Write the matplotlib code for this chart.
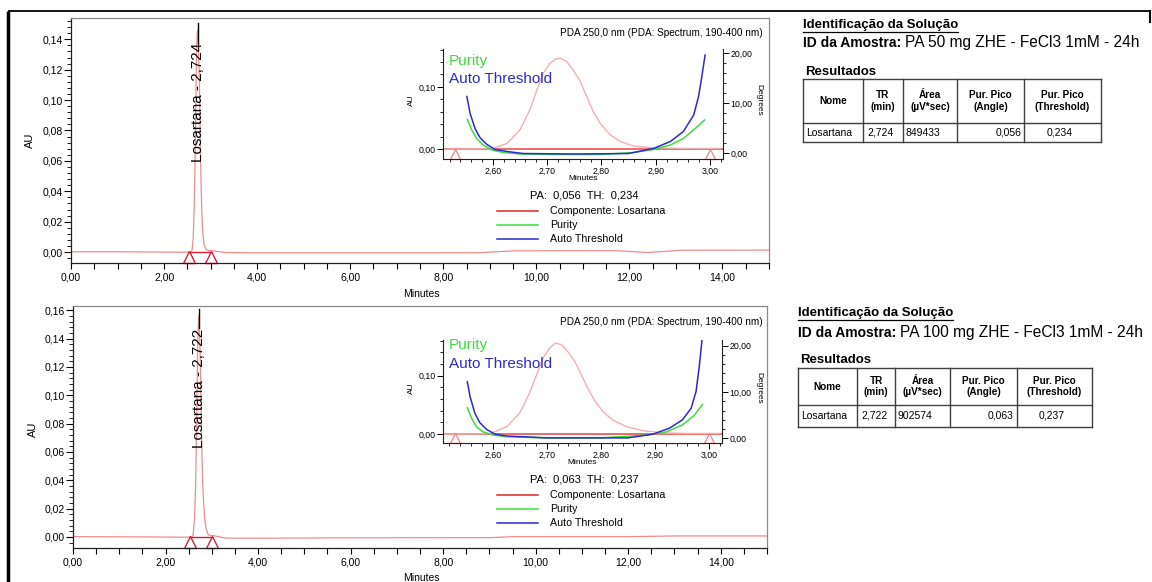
import matplotlib
matplotlib.use('Agg')
import matplotlib.pyplot as plt
import matplotlib.transforms as mtransforms
from matplotlib.ticker import MultipleLocator, FuncFormatter

plt.rcParams['font.family'] = ['Liberation Sans', 'DejaVu Sans']

W, H = 1152, 582

# ---------------- data ----------------
peak_names = ['Losartana', 'Losartana']
peak_rt = [2.724, 2.722]
peak_area = [849433, 902574]
purity_angle = [0.056, 0.063]
purity_threshold = [0.234, 0.237]
sample_ids = ['PA 50 mg ZHE - FeCl3 1mM - 24h', 'PA 100 mg ZHE - FeCl3 1mM - 24h']
peak_start = [2.535, 2.535]
peak_end = [3.00, 3.00]
channel_text = 'PDA 250,0 nm (PDA: Spectrum, 190-400 nm)'

# chromatogram 1 (minutes, AU)
base1_pre_t = [0.0, 1.0, 2.0, 2.4]
base1_pre_au = [0.0002, 0.0002, 0.0, -0.0001]
pk1_t = [2.51, 2.56, 2.60, 2.626, 2.650, 2.668, 2.681, 2.693, 2.705, 2.716, 2.724,
         2.736, 2.748, 2.761, 2.773, 2.785, 2.798, 2.816, 2.835, 2.859, 2.896, 2.95, 3.02]
pk1_au = [0.0, 0.0, 0.001, 0.009, 0.031, 0.063, 0.095, 0.122, 0.138, 0.145, 0.146,
          0.141, 0.127, 0.109, 0.084, 0.060, 0.041, 0.023, 0.012, 0.005, 0.002, 0.001, 0.001]
base1_post_t = [3.3, 4.0, 6.0, 7.5, 8.8, 9.5, 11.7, 12.4, 13.1, 15.0]
base1_post_au = [-0.0003, -0.0005, -0.0005, -0.0005, -0.0004, 0.0008, 0.0009, -0.0003, 0.0012, 0.0013]

# chromatogram 2
base2_pre_t = [0.0, 1.0, 1.8, 2.4]
base2_pre_au = [0.0002, 0.0001, 0.0, -0.0002]
pk2_t = [2.51, 2.56, 2.595, 2.626, 2.650, 2.668, 2.681, 2.693, 2.705, 2.716, 2.727,
         2.739, 2.752, 2.764, 2.776, 2.788, 2.804, 2.822, 2.847, 2.878, 2.915, 2.96, 3.02]
pk2_au = [0.0, 0.0, 0.001, 0.0125, 0.036, 0.070, 0.101, 0.130, 0.147, 0.156, 0.153,
          0.141, 0.124, 0.101, 0.078, 0.058, 0.038, 0.024, 0.0125, 0.0057, 0.002, 0.001, 0.001]
base2_post_t = [3.3, 4.0, 6.0, 9.0, 9.5, 12.0, 13.0, 15.0]
base2_post_au = [-0.0008, -0.0009, -0.0006, -0.0005, 0.0002, 0.0002, 0.0007, 0.0007]

# purity / threshold curves (minutes, degrees)
pur1_t = [2.553, 2.561, 2.570, 2.582, 2.598, 2.619, 2.650, 2.70, 2.80, 2.859, 2.896, 2.927, 2.951, 2.973, 2.990]
pur1_deg = [6.7, 4.6, 2.9, 1.6, 0.6, 0.1, -0.2, -0.3, -0.3, 0.1, 0.7, 1.6, 2.9, 4.9, 6.6]
thr1_t = [2.552, 2.558, 2.567, 2.576, 2.589, 2.604, 2.626, 2.656, 2.75, 2.85, 2.896, 2.927, 2.951, 2.970, 2.979, 2.985, 2.991]
thr1_deg = [11.3, 7.9, 4.9, 3.1, 1.7, 0.7, 0.3, -0.1, -0.2, -0.1, 0.9, 2.3, 4.3, 7.6, 11.3, 15.3, 19.6]
pur2_t = [2.553, 2.561, 2.570, 2.582, 2.601, 2.626, 2.70, 2.80, 2.884, 2.921, 2.951, 2.973, 2.988]
pur2_deg = [6.6, 4.3, 2.5, 1.4, 0.7, 0.35, 0.1, 0.1, 0.7, 1.4, 2.9, 5.0, 7.3]
thr2_t = [2.553, 2.558, 2.567, 2.576, 2.589, 2.604, 2.626, 2.70, 2.85, 2.896, 2.927, 2.951, 2.967, 2.976, 2.982, 2.987]
thr2_deg = [12.2, 9.0, 5.4, 3.4, 1.9, 0.9, 0.5, 0.1, 0.1, 0.9, 2.2, 4.0, 6.5, 10.1, 15.5, 21.2]

# ---------------- layout (pixels) ----------------
panels = [
    dict(ax=(71, 18, 769, 263), ylim=(-0.0072, 0.154),
         inset=(443, 49, 723, 159), in_ylim=(-0.016, 0.161), in_dlim=(-1.2, 20.8),
         lab_y0=0.059, line_top=0.151, au_lab=(30, 140), min_lab=(421, 294),
         pda_y=33, purity_y=61, auto_y=79, in_au=(411, 100), in_deg=(759, 100), in_min=(583, 178),
         pa_y=195, leg_y=(211, 225, 239),
         ident_y=25, id_y=43, res_y=72,
         tcols=(803, 863, 903, 957, 1024, 1101), trows=(79, 123, 142),
         chrom=(base1_pre_t, base1_pre_au, pk1_t, pk1_au, base1_post_t, base1_post_au),
         pur=(pur1_t, pur1_deg), thr=(thr1_t, thr1_deg)),
    dict(ax=(73, 306, 767, 548), ylim=(-0.0078, 0.163),
         inset=(443, 340, 722, 443), in_ylim=(-0.0154, 0.161), in_dlim=(-1.0, 21.2),
         lab_y0=0.063, line_top=0.161, au_lab=(33, 429), min_lab=(421, 578),
         pda_y=322, purity_y=345, auto_y=364, in_au=(411, 388), in_deg=(759, 388), in_min=(582, 463),
         pa_y=480, leg_y=(495, 509, 523),
         ident_y=313, id_y=333, res_y=360,
         tcols=(798, 857, 895, 950, 1017, 1092), trows=(368, 405, 427),
         chrom=(base2_pre_t, base2_pre_au, pk2_t, pk2_au, base2_post_t, base2_post_au),
         pur=(pur2_t, pur2_deg), thr=(thr2_t, thr2_deg)),
]

TRACE = '#f08c8c'
TRACE_IN = '#f4b0b0'
RED = '#d41e3a'
GREEN = '#3ddc3d'
BLUE = '#2a2ad0'


def rect(l, t, r, b):
    return [l / W, 1 - b / H, (r - l) / W, (b - t) / H]


def cfmt(fmt):
    def f(v, p):
        if abs(v) < 1e-9:
            v = 0.0
        return format(v, fmt).replace('.', ',')
    return FuncFormatter(f)


fig = plt.figure(figsize=(W / 100, H / 100), dpi=100)
ov = fig.add_axes([0, 0, 1, 1], zorder=10)
ov.set_xlim(0, W)
ov.set_ylim(H, 0)
ov.axis('off')
ov.patch.set_alpha(0)

# outer frame
ov.plot([8, 1151], [11, 11], color='black', lw=1.3, solid_capstyle='butt')
ov.plot([8, 8], [11, H], color='black', lw=2.5, solid_capstyle='butt')
ov.plot([1150, 1150], [11, 22], color='black', lw=1.5)

renderer = fig.canvas.get_renderer()

for i, P in enumerate(panels):
    # ---------------- main chromatogram ----------------
    ax = fig.add_axes(rect(*P['ax']))
    pre_t, pre_au, pk_t, pk_au, post_t, post_au = P['chrom']
    ax.plot(pre_t + pk_t + post_t, pre_au + pk_au + post_au, color=TRACE, lw=0.9)
    ax.set_xlim(0, 15)
    ax.set_ylim(*P['ylim'])
    ax.xaxis.set_major_locator(MultipleLocator(2))
    ax.xaxis.set_minor_locator(MultipleLocator(0.5))
    ax.yaxis.set_major_locator(MultipleLocator(0.02))
    ax.yaxis.set_minor_locator(MultipleLocator(0.004))
    ax.xaxis.set_major_formatter(cfmt('.2f'))
    ax.yaxis.set_major_formatter(cfmt('.2f'))
    ax.tick_params(axis='y', which='major', length=5, width=0.8, labelsize=7.5, pad=1)
    ax.tick_params(axis='y', which='minor', length=3, width=0.6)
    ax.tick_params(axis='x', which='both', length=4, width=0.8, labelsize=7.5, pad=3)
    for s in ('top', 'right'):
        ax.spines[s].set_color('#8a8a8a')
        ax.spines[s].set_linewidth(0.9)
    for s in ('left', 'bottom'):
        ax.spines[s].set_color('#202020')
        ax.spines[s].set_linewidth(0.9)

    # integration baseline + start/end triangles
    ax.plot([peak_start[i], peak_end[i]], [0.0, 0.0], color=RED, lw=1.0)
    ms = 8
    tr = mtransforms.offset_copy(ax.get_xaxis_transform(), fig=fig, y=ms / 2, units='points')
    ax.plot([peak_start[i], peak_end[i]], [0, 0], transform=tr, ls='none', marker='^', ms=ms,
            mfc='none', mec=RED, mew=1.0, clip_on=False)

    # peak label
    lab = f"{peak_names[i]} - {peak_rt[i]:.3f}".replace('.', ',')
    t = ax.text(peak_rt[i], P['lab_y0'], lab, rotation=90, ha='center', va='bottom', fontsize=11)
    bb = t.get_window_extent(renderer)
    ytop_data = ax.transData.inverted().transform((0, bb.y1))[1]
    ax.plot([peak_rt[i], peak_rt[i]], [ytop_data, P['line_top']], color='black', lw=1.0)

    # ---------------- inset (peak purity) ----------------
    ai = fig.add_axes(rect(*P['inset']))
    ai.patch.set_alpha(0)
    ai.plot(pk_t, pk_au, color=TRACE_IN, lw=1.0, zorder=2)
    ai.axhline(0.0, color='#ee4040', lw=1.1, zorder=1)
    ai.set_xlim(2.508, 3.024)
    ai.set_ylim(*P['in_ylim'])
    ai.xaxis.set_major_locator(MultipleLocator(0.1))
    ai.xaxis.set_minor_locator(MultipleLocator(0.02))
    ai.yaxis.set_major_locator(MultipleLocator(0.1))
    ai.yaxis.set_minor_locator(MultipleLocator(0.02))
    ai.xaxis.set_major_formatter(cfmt('.2f'))
    ai.yaxis.set_major_formatter(cfmt('.2f'))
    ai.tick_params(axis='both', which='major', length=4, width=0.7, labelsize=6.3, pad=1.5)
    ai.tick_params(axis='both', which='minor', length=2.5, width=0.6)
    ai.spines['top'].set_visible(False)
    ai.spines['right'].set_visible(False)
    for s in ('left', 'bottom'):
        ai.spines[s].set_linewidth(0.8)
        ai.spines[s].set_color('#202020')
    ms2 = 7
    tr2 = mtransforms.offset_copy(ai.get_xaxis_transform(), fig=fig, y=ms2 / 2, units='points')
    ai.plot([peak_start[i] - 0.005, peak_end[i]], [0, 0], transform=tr2, ls='none', marker='^',
            ms=ms2, mfc='none', mec='#e88888', mew=0.9, clip_on=False)

    ad = ai.twinx()
    ad.set_ylim(*P['in_dlim'])
    ad.plot(P['pur'][0], P['pur'][1], color=GREEN, lw=1.1)
    ad.plot(P['thr'][0], P['thr'][1], color=BLUE, lw=1.1)
    ad.yaxis.set_major_locator(MultipleLocator(10))
    ad.yaxis.set_minor_locator(MultipleLocator(2))
    ad.yaxis.set_major_formatter(cfmt('.2f'))
    ad.tick_params(axis='y', which='major', length=4, width=0.7, labelsize=6.3, pad=1.5)
    ad.tick_params(axis='y', which='minor', length=2.5, width=0.6)
    for s in ('top', 'left', 'bottom'):
        ad.spines[s].set_visible(False)
    ad.spines['right'].set_linewidth(0.8)
    ad.spines['right'].set_color('#202020')

    # ---------------- texts (pixel coords) ----------------
    ov.text(P['au_lab'][0], P['au_lab'][1], 'AU', rotation=90, ha='center', va='center', fontsize=8)
    ov.text(P['min_lab'][0], P['min_lab'][1], 'Minutes', ha='center', va='center', fontsize=7.5)
    ov.text(763, P['pda_y'], channel_text, ha='right', va='center', fontsize=7.2)
    ov.text(449, P['purity_y'], 'Purity', color=GREEN, ha='left', va='center', fontsize=11)
    ov.text(449, P['auto_y'], 'Auto Threshold', color=BLUE, ha='left', va='center', fontsize=11)
    ov.text(P['in_au'][0], P['in_au'][1], 'AU', rotation=90, ha='center', va='center', fontsize=6)
    ov.text(P['in_deg'][0], P['in_deg'][1], 'Degrees', rotation=270, ha='center', va='center', fontsize=6)
    ov.text(P['in_min'][0], P['in_min'][1], 'Minutes', ha='center', va='center', fontsize=6)
    pa_txt = f"PA:  {purity_angle[i]:.3f}  TH:  {purity_threshold[i]:.3f}".replace('.', ',')
    ov.text(584, P['pa_y'], pa_txt, ha='center', va='center', fontsize=8)
    leg_labels = [f"Componente: {peak_names[i]}", 'Purity', 'Auto Threshold']
    leg_colors = ['#e02828', GREEN, BLUE]
    for ly, ll, lc in zip(P['leg_y'], leg_labels, leg_colors):
        ov.plot([497, 538], [ly, ly], color=lc, lw=1.1)
        ov.text(550, ly, ll, ha='left', va='center', fontsize=7.7)

    # right panel
    x0 = P['tcols'][0]
    it = ov.text(x0, P['ident_y'], 'Identificação da Solução', ha='left', va='center',
                 fontsize=9.5, fontweight='bold')
    bbi = it.get_window_extent(renderer)
    ov.plot([bbi.x0, bbi.x1], [P['ident_y'] + 7, P['ident_y'] + 7], color='black', lw=0.9)
    idt = ov.text(x0, P['id_y'], 'ID da Amostra:', ha='left', va='center', fontsize=10, fontweight='bold')
    bbd = idt.get_window_extent(renderer)
    ov.text(bbd.x1 + 4, P['id_y'], sample_ids[i], ha='left', va='center', fontsize=11.2)
    ov.text(x0 + 2, P['res_y'], 'Resultados', ha='left', va='center', fontsize=9.5, fontweight='bold')

    cols = P['tcols']
    rows = P['trows']
    for cx in cols:
        ov.plot([cx, cx], [rows[0], rows[-1]], color='#404040', lw=1.0)
    for ry in rows:
        ov.plot([cols[0], cols[-1]], [ry, ry], color='#404040', lw=1.0)
    headers = ['Nome', 'TR\n(min)', 'Área\n(µV*sec)', 'Pur. Pico\n(Angle)', 'Pur. Pico\n(Threshold)']
    hy = (rows[0] + rows[1]) / 2
    for k, htxt in enumerate(headers):
        ov.text((cols[k] + cols[k + 1]) / 2, hy, htxt, ha='center', va='center', fontsize=7.2,
                fontweight='bold', linespacing=1.15)
    dy = (rows[1] + rows[2]) / 2
    ov.text(cols[0] + 3, dy, peak_names[i], ha='left', va='center', fontsize=7.5)
    ov.text(cols[1] + 4, dy, f"{peak_rt[i]:.3f}".replace('.', ','), ha='left', va='center', fontsize=7.5)
    ov.text(cols[2] + 3, dy, f"{peak_area[i]}", ha='left', va='center', fontsize=7.5)
    ov.text(cols[4] - 3, dy, f"{purity_angle[i]:.3f}".replace('.', ','), ha='right', va='center', fontsize=7.5)
    ov.text((cols[4] + cols[5]) / 2 - 3, dy, f"{purity_threshold[i]:.3f}".replace('.', ','),
            ha='center', va='center', fontsize=7.5)

fig.savefig('out.png', dpi=100)
